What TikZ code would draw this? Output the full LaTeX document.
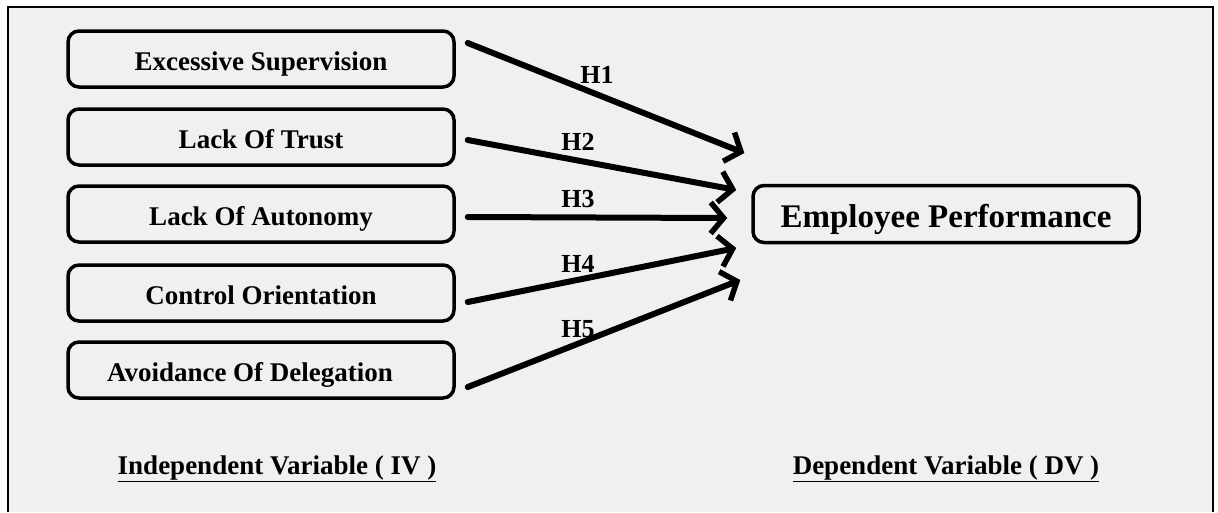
\documentclass[tikz,border=0pt]{standalone}
\usepackage{fontspec}
\setmainfont{Liberation Serif}
\usepackage{xcolor}
\usepackage{tikz}
\usetikzlibrary{shapes.geometric, arrows, arrows.meta, positioning}
\definecolor{paper}{HTML}{F0F0F0}
\tikzstyle{arrow} = [line width=6pt,-{Straight Barb[length=13pt,width=31pt,line width=5.5pt]},line cap=round]
\tikzstyle{ivbox} = [draw,line width=3.5pt,rounded corners=11pt,minimum width=386pt,minimum height=56pt,text height=24pt,text depth=2pt,font=\fontsize{27}{30}\selectfont\bfseries]
\tikzstyle{dvbox} = [draw,line width=3.5pt,rounded corners=11pt,minimum width=386pt,minimum height=57pt,text height=28pt,text depth=2pt,font=\fontsize{33}{36}\selectfont\bfseries]
\tikzstyle{hlabel} = [font=\fontsize{26}{28}\selectfont\bfseries]

\begin{document}
\begin{tikzpicture}[x=1pt,y=-1pt]
	\useasboundingbox (0,0) rectangle (1218,512);
	% Background and frame (no bottom edge visible):
	\fill[paper] (8,7) rectangle (1213,512);
	\draw[line width=2pt] (8,512) -- (8,7) -- (1213,7) -- (1213,512);

	% Independent variables:
	\node[ivbox] (sup) at (261,59)  {Excessive Supervision};
	\node[ivbox] (trust) at (261,137) {Lack Of Trust};
	\node[ivbox] (auto) at (261,214) {Lack Of Autonomy};
	\node[ivbox] (ctrl) at (261,293) {Control Orientation};
	\node[ivbox] (deleg) at (261,370) {\hspace*{-22pt}Avoidance Of Delegation};

	% Dependent variable:
	\node[dvbox] (perf) at (946,214) {Employee Performance};

	% Arrow ends:
	\coordinate (s1) at ([shift={(12,-16)}]sup.east);
	\coordinate (s2) at ([shift={(12,3)}]trust.east);
	\coordinate (s3) at ([shift={(12,3)}]auto.east);
	\coordinate (s4) at ([shift={(12,9)}]ctrl.east);
	\coordinate (s5) at ([shift={(12,17)}]deleg.east);
	\coordinate (t1) at ([shift={(-7,-61)}]perf.west);
	\coordinate (t2) at ([shift={(-15,-24)}]perf.west);
	\coordinate (t3) at ([shift={(-24,4)}]perf.west);
	\coordinate (t4) at ([shift={(-15,34)}]perf.west);
	\coordinate (t5) at ([shift={(-11,66)}]perf.west);

	\draw[arrow] (s1) -- (t1);
	\draw[arrow] (s2) -- (t2);
	\draw[arrow] (s3) -- (t3);
	\draw[arrow] (s4) -- (t4);
	\draw[arrow] (s5) -- (t5);

	% Hypothesis labels:
	\node[hlabel] (h1) at (597,75)  {H1};
	\node[hlabel] (h2) at (578,142) {H2};
	\node[hlabel] (h3) at (578,199) {H3};
	\node[hlabel] (h4) at (578,264) {H4};
	\node[hlabel] (h5) at (578,329) {H5};

	% Captions:
	\node[font=\fontsize{27}{30}\selectfont\bfseries] (iv) at (277,469) {\underline{Independent Variable ( IV )}};
	\node[font=\fontsize{27}{30}\selectfont\bfseries] (dv) at (946,469) {\underline{Dependent Variable ( DV )}};
\end{tikzpicture}
\end{document}
